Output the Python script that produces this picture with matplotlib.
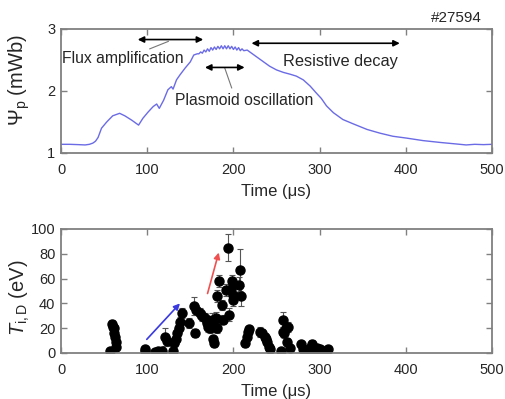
import matplotlib
matplotlib.use("Agg")
import matplotlib.pyplot as plt

plt.rcParams['font.family'] = ['Liberation Sans', 'DejaVu Sans']
plt.rcParams['mathtext.fontset'] = 'custom'
plt.rcParams['mathtext.rm'] = 'Liberation Sans'
plt.rcParams['mathtext.it'] = 'Liberation Sans:italic'

# ---- top panel: poloidal flux ----
flux_t = [0, 10, 20, 28, 33, 37, 40, 43, 47, 53, 60, 68, 74, 82, 90, 95, 101, 107, 111, 114,
          119, 124, 128, 130, 134, 138, 144, 150, 154, 158,
          160, 162, 164, 166, 168, 170, 172, 174, 176, 178, 180, 182, 184, 186, 188, 190,
          192, 194, 196, 198, 200, 202, 204, 206, 208, 210, 212,
          216, 220, 227, 235, 242, 250, 258, 266, 273, 281, 289, 296, 302, 308, 316, 327,
          339, 355, 370, 385, 401, 420, 440, 459, 470, 480, 490, 500]
flux_psi = [1.14, 1.14, 1.135, 1.13, 1.14, 1.16, 1.19, 1.25, 1.40, 1.50, 1.60, 1.64, 1.60, 1.53,
            1.45, 1.56, 1.66, 1.75, 1.79, 1.72, 1.85, 2.02, 2.07, 2.03, 2.18, 2.26, 2.37, 2.47,
            2.58, 2.60,
            2.60, 2.63, 2.61, 2.66, 2.63, 2.68, 2.64, 2.70, 2.66, 2.71, 2.67, 2.72, 2.68, 2.73,
            2.68, 2.73, 2.68, 2.73, 2.68, 2.72, 2.67, 2.71, 2.66, 2.70, 2.65, 2.68, 2.65,
            2.66, 2.62, 2.55, 2.47, 2.40, 2.34, 2.30, 2.27, 2.24, 2.18, 2.08, 1.97, 1.88, 1.76,
            1.65, 1.54, 1.47, 1.38, 1.32, 1.27, 1.24, 1.20, 1.17, 1.145, 1.13, 1.14, 1.135, 1.14]

# ---- bottom panel: ion temperature ----
ti_t = [57, 59, 60, 61, 62, 63, 63.5, 64,
        97.5, 98, 109, 113, 117, 121, 123,
        130, 131, 133, 135, 137, 138, 140, 148,
        154, 155, 157, 161, 163, 167, 169, 171, 173, 175, 176, 177, 179, 180, 181,
        181.5, 183, 186.5, 188, 191.5, 194, 195, 197, 198, 199, 200,
        207, 208, 208.5, 213.5, 215.5, 217.5, 218.5,
        231, 233, 237, 238, 239, 241, 243,
        255, 257, 258, 259, 261, 262, 263, 266,
        279, 281, 283, 285, 289, 291, 293, 295, 297, 301, 304.5, 310]
ti_val = [1.5, 23, 21, 20, 16, 13, 9, 5,
          3, 2, 0.5, 1.5, 2, 13, 10,
          1.5, 8, 11, 16, 20, 25, 32, 24,
          38, 16, 35, 32, 30, 28, 24, 21, 20, 27, 11, 8, 21, 28, 20,
          46, 58, 39, 27, 51, 85, 31, 52, 58, 47, 43,
          55, 67, 46, 8, 13, 17, 19,
          17, 16, 13, 11, 9, 5, 3,
          1.5, 27, 17, 16, 20, 9, 21, 4,
          7, 3, 0.5, 1.5, 4, 7.5, 3, 1.5, 4, 3, 1.5, 3]
ti_err = [2, 4, 3, 3, 3, 3, 2, 2,
          3, 2, 1, 2, 2, 7, 4,
          2, 4, 4, 4, 4, 4, 4, 4,
          7, 3, 4, 4, 4, 4, 4, 4, 4, 5, 3, 3, 4, 5, 4,
          5, 5, 4, 4, 5, 11, 5, 5, 5, 5, 5,
          6, 17, 8, 3, 3, 3, 3,
          4, 3, 3, 3, 3, 2, 2,
          2, 6, 4, 4, 4, 3, 4, 2,
          2, 2, 1, 1, 2, 3, 2, 1, 2, 2, 1, 2]

W, H = 505, 399
fig = plt.figure(figsize=(W / 100, H / 100), dpi=100)

ax1 = fig.add_axes([61 / W, 1 - 153 / H, 431 / W, 124 / H])
ax2 = fig.add_axes([61 / W, 1 - 353 / H, 431 / W, 124 / H])

spine_col = '#808080'
txt_col = '#262626'
for ax in (ax1, ax2):
    for s in ax.spines.values():
        s.set_color(spine_col)
        s.set_linewidth(1.3)
    ax.tick_params(direction='in', length=4, width=1.0, color=spine_col,
                   top=True, right=True, labelsize=10.5, labelcolor=txt_col)
    ax.tick_params(axis='x', pad=7)
    ax.tick_params(axis='y', pad=4)
    ax.set_xlim(0, 500)
    ax.set_xticks([0, 100, 200, 300, 400, 500])
    ax.set_xlabel('Time (μs)', fontsize=12, color=txt_col, labelpad=5.5)

ax1.plot(flux_t, flux_psi, color='#6b6be6', lw=1.0)
ax1.set_ylim(1, 3)
ax1.set_yticks([1, 2, 3])
ax1.set_ylabel(r'$\Psi_{\rm p}$ (mWb)', fontsize=14.5, color=txt_col)
ax1.yaxis.set_label_coords(-0.068, 0.59)

arrow_kw = dict(arrowstyle='<|-|>', color='black', lw=1.2, mutation_scale=9,
                shrinkA=0, shrinkB=0)
ax1.annotate('', xy=(89, 2.83), xytext=(165, 2.83), arrowprops=arrow_kw)
ax1.annotate('', xy=(167, 2.38), xytext=(213, 2.38), arrowprops=arrow_kw)
ax1.annotate('', xy=(221, 2.77), xytext=(393, 2.77), arrowprops=arrow_kw)
ax1.plot([124.5, 103], [2.80, 2.68], color='#777777', lw=0.8)
ax1.plot([190, 198], [2.37, 2.05], color='#777777', lw=0.8)
ax1.text(1, 2.52, 'Flux amplification', fontsize=11.3, color=txt_col, va='center', ha='left')
ax1.text(132, 1.85, 'Plasmoid oscillation', fontsize=11.3, color=txt_col, va='center', ha='left')
ax1.text(257, 2.47, 'Resistive decay', fontsize=11.8, color=txt_col, va='center', ha='left')
fig.text(482 / W, 1 - 18 / H, '#27594', fontsize=11, color=txt_col, ha='right', va='center')

ax2.errorbar(ti_t, ti_val, yerr=ti_err, fmt='o', color='black', ms=6.5, elinewidth=0.8,
             ecolor='#555555', capsize=2, capthick=0.8)
ax2.set_ylim(0, 100)
ax2.set_yticks([0, 20, 40, 60, 80, 100])
ax2.set_ylabel(r'$T_{\rm i,D}$ (eV)', fontsize=14.5, color=txt_col)
ax2.yaxis.set_label_coords(-0.068, 0.45)
ax2.annotate('', xy=(138, 40), xytext=(99.5, 11),
             arrowprops=dict(arrowstyle='-|>', color='#3a3ae0', lw=1.2, mutation_scale=9,
                             shrinkA=0, shrinkB=0))
ax2.annotate('', xy=(183, 81), xytext=(170, 48),
             arrowprops=dict(arrowstyle='-|>', color='#f05050', lw=1.2, mutation_scale=9,
                             shrinkA=0, shrinkB=0))

fig.savefig('out.png', dpi=100)
